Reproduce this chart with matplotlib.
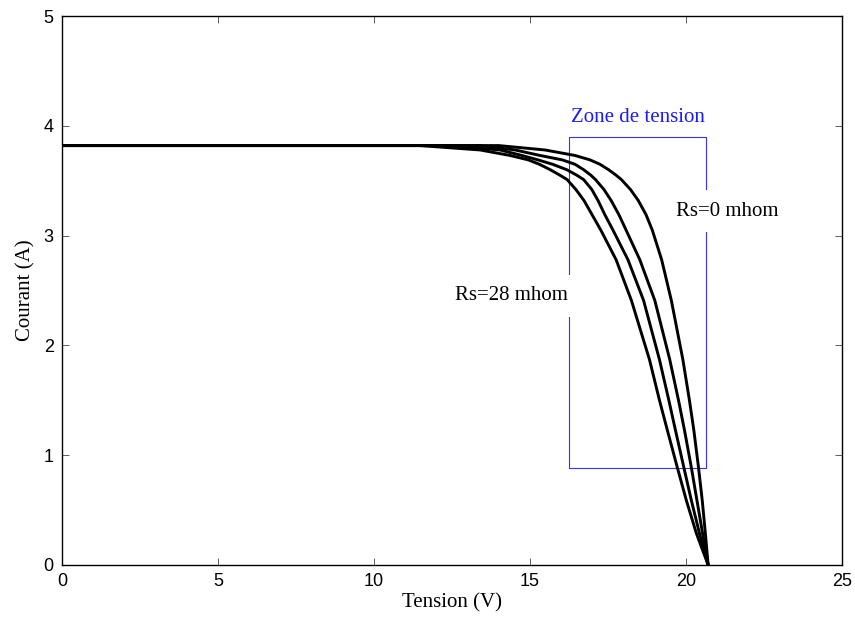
import matplotlib
matplotlib.use("Agg")
import matplotlib.pyplot as plt

# current levels (A) at which each curve's voltage was read
CURRENT = [3.82, 3.82, 3.78, 3.73, 3.69, 3.65, 3.60, 3.55, 3.51, 3.42, 3.32,
           3.19, 3.05, 2.78, 2.41, 1.87, 1.50, 1.23, 0.89, 0.59, 0.29, 0.0]

# voltage (V) for each Rs curve
V_RS28 = [0, 11.47, 13.40, 14.36, 14.94, 15.30, 15.65, 15.96, 16.19, 16.47, 16.73,
          16.99, 17.27, 17.76, 18.25, 18.83, 19.15, 19.40, 19.72, 20.01, 20.33, 20.71]
V_RS19 = [0, 12.40, 14.04, 14.74, 15.25, 15.72, 16.18, 16.50, 16.72, 16.98, 17.18,
          17.40, 17.66, 18.14, 18.64, 19.15, 19.45, 19.66, 19.93, 20.17, 20.43, 20.71]
V_RS9 = [0, 13.40, 14.52, 15.32, 16.03, 16.44, 16.72, 16.95, 17.10, 17.37, 17.60,
         17.85, 18.08, 18.52, 19.00, 19.48, 19.76, 19.95, 20.17, 20.35, 20.53, 20.71]
V_RS0 = [0, 14.00, 15.48, 16.44, 16.92, 17.24, 17.52, 17.76, 17.93, 18.22, 18.47,
         18.72, 18.92, 19.22, 19.53, 19.90, 20.11, 20.25, 20.40, 20.52, 20.62, 20.71]

CURVES = [V_RS0, V_RS9, V_RS19, V_RS28]

# "Zone de tension" rectangle
ZONE_V = [16.25, 20.65]
ZONE_I = [0.886, 3.90]

SERIF = "Liberation Serif"
SANS = "Liberation Sans"

fig = plt.figure(figsize=(8.55, 6.23), dpi=100)
ax = fig.add_axes([0.0725, 0.0931, 0.9123, 0.8812])

for volts in CURVES:
    ax.plot(volts, CURRENT, color="black", linewidth=2.1, solid_joinstyle="round", zorder=3)

v0, v1 = ZONE_V
i0, i1 = ZONE_I
ax.plot([v0, v0, v1, v1, v0], [i0, i1, i1, i0, i0], color="#3333ff", linewidth=0.8, zorder=2)

ax.text((v0 + v1) / 2, 4.08, "Zone de tension", color="#1a1aff", fontsize=15,
        family=SERIF, ha="center", va="center")

label_box = dict(boxstyle="square,pad=0.55", facecolor="white", edgecolor="none")
ax.text(19.68, 3.22, "Rs=0 mhom", fontsize=15, family=SERIF, ha="left", va="center",
        bbox=label_box, zorder=4)
ax.text(16.22, 2.45, "Rs=28 mhom", fontsize=15, family=SERIF, ha="right", va="center",
        bbox=label_box, zorder=4)

ax.set_xlim(0, 25)
ax.set_ylim(0, 5)
ax.set_xticks([0, 5, 10, 15, 20, 25])
ax.set_yticks([0, 1, 2, 3, 4, 5])
ax.tick_params(direction="in", length=5, width=0.6, color="#444444",
               top=True, right=True, labelsize=13, pad=6)
for lab in ax.get_xticklabels() + ax.get_yticklabels():
    lab.set_family(SANS)
for sp in ax.spines.values():
    sp.set_linewidth(1.0)
    sp.set_color("black")

ax.set_xlabel("Tension (V)", fontsize=15, family=SERIF, labelpad=2)
ax.set_ylabel("Courant (A)", fontsize=15, family=SERIF, labelpad=6)

fig.savefig("out.png", dpi=100)
